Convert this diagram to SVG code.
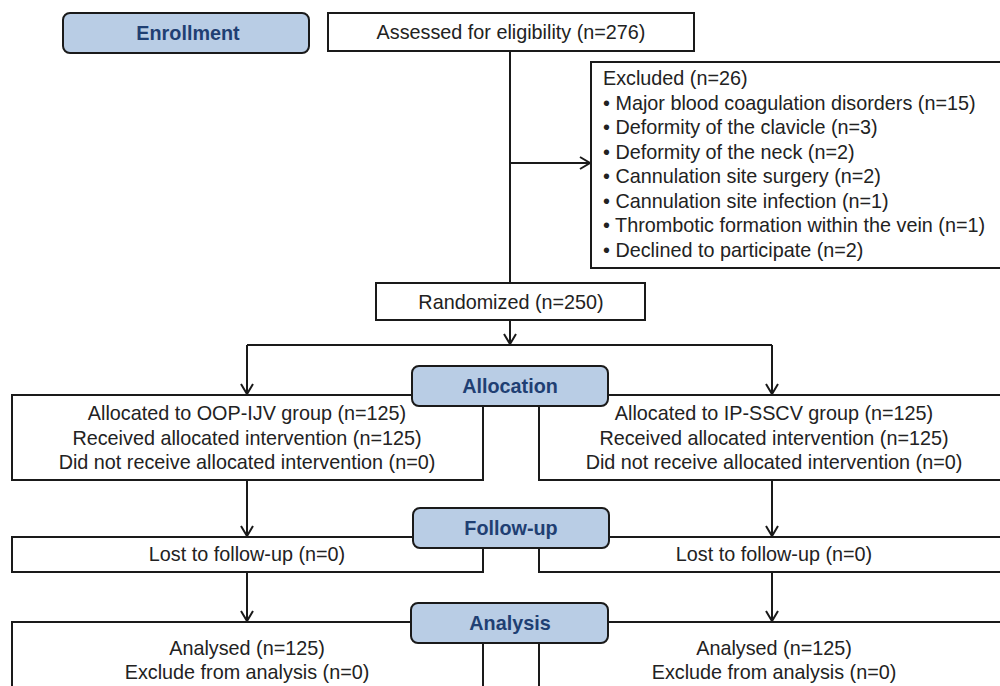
<svg xmlns="http://www.w3.org/2000/svg" width="1000" height="686" viewBox="0 0 1000 686">
<defs>
<marker id="arr" markerUnits="userSpaceOnUse" markerWidth="14" markerHeight="14" viewBox="-12 -7 14 14" refX="0" refY="0" orient="auto">
<path d="M-10,-6 L0,0 L-10,6" fill="none" stroke="#1a1a1a" stroke-width="2"/>
</marker>
<style>
.box{fill:#fff;stroke:#1a1a1a;stroke-width:2}
.stage{fill:#b9cde5;stroke:#1a1a1a;stroke-width:2}
.t{font-family:"Liberation Sans",Arial,sans-serif;font-size:19.8px;fill:#222}
.c{text-anchor:middle}
.st{font-family:"Liberation Sans",Arial,sans-serif;font-size:19.8px;font-weight:bold;fill:#1f3f73;text-anchor:middle}
.ln{fill:none;stroke:#1a1a1a;stroke-width:2}
</style>
</defs>
<rect width="1000" height="686" fill="#fff"/>
<g id="connectors">
<path class="ln" d="M510,51 V283"/>
<path class="ln" d="M510,163 H590" marker-end="url(#arr)"/>
<path class="ln" d="M510,320 V344" marker-end="url(#arr)"/>
<path class="ln" d="M247,345 H772"/>
<path class="ln" d="M247,345 V394" marker-end="url(#arr)"/>
<path class="ln" d="M772,345 V394" marker-end="url(#arr)"/>
<path class="ln" d="M247,480 V536" marker-end="url(#arr)"/>
<path class="ln" d="M772,480 V536" marker-end="url(#arr)"/>
<path class="ln" d="M247,572 V621" marker-end="url(#arr)"/>
<path class="ln" d="M772,572 V621" marker-end="url(#arr)"/>
</g>
<g id="assessed">
<rect class="box" x="328" y="13" width="366" height="38"/>
<text class="t c" x="511" y="39">Assessed for eligibility (n=276)</text>
</g>
<g id="excluded">
<rect class="box" x="591" y="62" width="420" height="206"/>
<text class="t" x="603" y="85">Excluded (n=26)</text>
<text class="t" x="603" y="109.5">• Major blood coagulation disorders (n=15)</text>
<text class="t" x="603" y="134">• Deformity of the clavicle (n=3)</text>
<text class="t" x="603" y="158.5">• Deformity of the neck (n=2)</text>
<text class="t" x="603" y="183">• Cannulation site surgery (n=2)</text>
<text class="t" x="603" y="207.5">• Cannulation site infection (n=1)</text>
<text class="t" x="603" y="232">• Thrombotic formation within the vein (n=1)</text>
<text class="t" x="603" y="256.5">• Declined to participate (n=2)</text>
</g>
<g id="randomized">
<rect class="box" x="376" y="283" width="269" height="37"/>
<text class="t c" x="511" y="309">Randomized (n=250)</text>
</g>
<g id="alloc-left">
<rect class="box" x="12" y="395" width="471" height="85"/>
<text class="t c" x="247" y="420">Allocated to OOP-IJV group (n=125)</text>
<text class="t c" x="247" y="444.5">Received allocated intervention (n=125)</text>
<text class="t c" x="247" y="469">Did not receive allocated intervention (n=0)</text>
</g>
<g id="alloc-right">
<rect class="box" x="539" y="395" width="472" height="85"/>
<text class="t c" x="774" y="420">Allocated to IP-SSCV group (n=125)</text>
<text class="t c" x="774" y="444.5">Received allocated intervention (n=125)</text>
<text class="t c" x="774" y="469">Did not receive allocated intervention (n=0)</text>
</g>
<g id="lost-left">
<rect class="box" x="12" y="537" width="471" height="35"/>
<text class="t c" x="247" y="561">Lost to follow-up (n=0)</text>
</g>
<g id="lost-right">
<rect class="box" x="539" y="537" width="472" height="35"/>
<text class="t c" x="774" y="561">Lost to follow-up (n=0)</text>
</g>
<g id="analysis-left">
<rect class="box" x="12" y="622" width="471" height="90"/>
<text class="t c" x="247" y="655">Analysed (n=125)</text>
<text class="t c" x="247" y="679">Exclude from analysis (n=0)</text>
</g>
<g id="analysis-right">
<rect class="box" x="539" y="622" width="472" height="90"/>
<text class="t c" x="774" y="655">Analysed (n=125)</text>
<text class="t c" x="774" y="679">Exclude from analysis (n=0)</text>
</g>
<g id="stage-enrollment">
<rect class="stage" x="63" y="13" width="246" height="40" rx="7"/>
<text class="st" x="188" y="40">Enrollment</text>
</g>
<g id="stage-allocation">
<rect class="stage" x="412" y="366" width="196" height="40" rx="7"/>
<text class="st" x="510" y="393">Allocation</text>
</g>
<g id="stage-followup">
<rect class="stage" x="413" y="508" width="196" height="40" rx="7"/>
<text class="st" x="511" y="535">Follow-up</text>
</g>
<g id="stage-analysis">
<rect class="stage" x="411" y="603" width="197" height="40" rx="7"/>
<text class="st" x="510" y="630">Analysis</text>
</g>
</svg>
